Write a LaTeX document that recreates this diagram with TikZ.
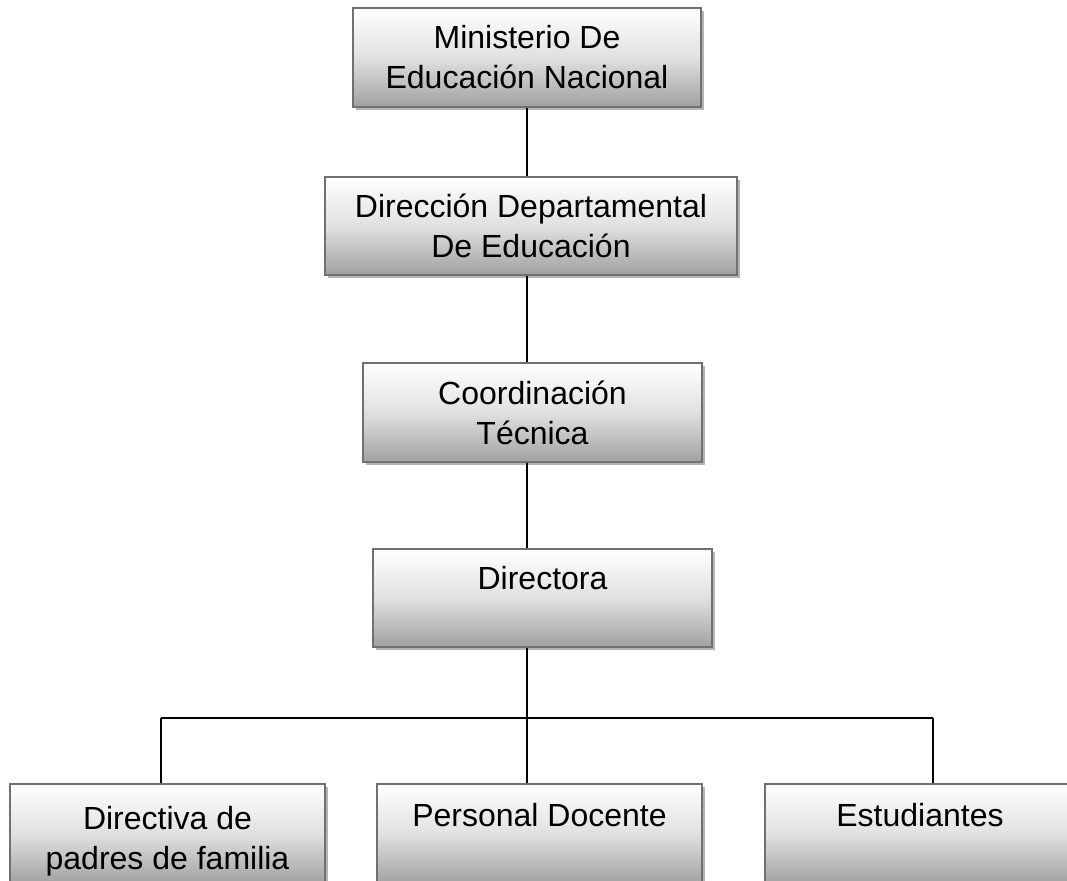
\documentclass[tikz,border=0pt]{standalone}
\usepackage{fontspec}
\setmainfont{Liberation Sans}
\usetikzlibrary{shadows}
\definecolor{boxborder}{HTML}{707070}
\definecolor{shadowgray}{HTML}{B4B4B4}
\begin{document}
\begin{tikzpicture}[x=1pt,y=1pt,
  orgbox/.style={draw=boxborder, line width=2pt, rectangle, inner sep=0pt,
    top color=white, bottom color=black!37, middle color=black!12,
    drop shadow={shadow xshift=3pt, shadow yshift=-3pt, fill=shadowgray, opacity=1}},
  lbl/.style={font=\fontsize{32}{40}\selectfont, align=center, inner sep=0pt},
  conn/.style={line width=2.4pt, black}]
\useasboundingbox (0,0) rectangle (1067,-880);
\clip (0,0) rectangle (1067,-880);
% boxes
\node[orgbox, minimum width=348pt, minimum height=99pt] (b1) at (527,-57.5) {};
\node[orgbox, minimum width=412pt, minimum height=98pt] (b2) at (531,-226) {};
\node[orgbox, minimum width=339pt, minimum height=99pt] (b3) at (532.5,-412.5) {};
\node[orgbox, minimum width=339pt, minimum height=98pt] (b4) at (542.5,-598) {};
\node[orgbox, minimum width=315pt, minimum height=100pt] (b5) at (167.5,-834) {};
\node[orgbox, minimum width=325pt, minimum height=100pt] (b6) at (539.5,-834) {};
\node[orgbox, minimum width=310pt, minimum height=100pt] (b7) at (920,-834) {};
% labels
\node[lbl] (t1) at (b1.center) {Ministerio De\\Educación Nacional};
\node[lbl] (t2) at (b2.center) {Dirección Departamental\\De Educación};
\node[lbl] (t3) at (b3.center) {Coordinación\\Técnica};
\node[lbl, anchor=base] (t4) at ([yshift=-41pt]b4.north) {Directora};
\node[lbl, anchor=base] (t5) at ([yshift=-86pt]b5.north) {Directiva de\\padres de familia};
\node[lbl, anchor=base] (t6) at ([yshift=-43pt]b6.north) {Personal Docente};
\node[lbl, anchor=base] (t7) at ([yshift=-43pt]b7.north) {Estudiantes};
% connectors
\coordinate (trunk) at (527,0);
\coordinate (c5) at (161,-718);
\coordinate (c6) at (527,-718);
\coordinate (c7) at (933,-718);
\draw[conn] (b1.south -| trunk) -- (b2.north -| trunk);
\draw[conn] (b2.south -| trunk) -- (b3.north -| trunk);
\draw[conn] (b3.south -| trunk) -- (b4.north -| trunk);
\draw[conn] (b4.south -| trunk) -- (b6.north -| trunk);
\draw[conn] (c5) -- (c7);
\draw[conn] (c5) -- (c5 |- b5.north);
\draw[conn] (c7) -- (c7 |- b7.north);
\end{tikzpicture}
\end{document}
